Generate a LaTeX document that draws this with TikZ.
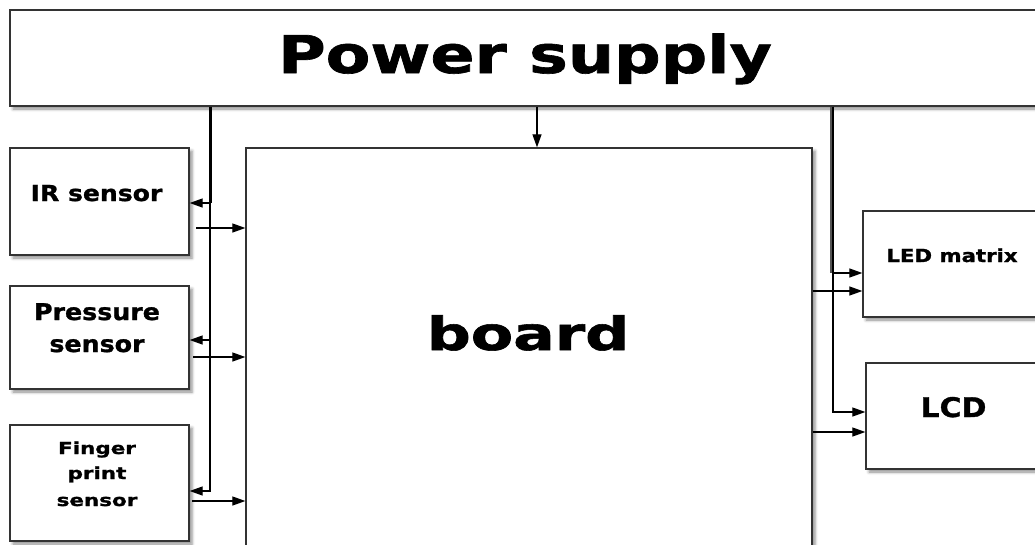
\documentclass[tikz,border=0pt]{standalone}
\usepackage{fontspec}
\setmainfont{DejaVu Sans}[BoldFeatures={FakeBold=1.2}]
\usetikzlibrary{arrows.meta,shadows.blur}

\definecolor{boxline}{HTML}{333333}
\definecolor{feedgray}{HTML}{555555}

% bold label: size (pt), horizontal stretch, text
\newcommand{\lbl}[3]{\scalebox{#2}[1]{\fontsize{#1}{#1}\selectfont\bfseries #3}}

\tikzset{
  box/.style={draw=boxline, line width=1.3pt, fill=white, rectangle, inner sep=0pt,
    blur shadow={shadow xshift=3pt, shadow yshift=-3pt, shadow blur radius=3pt, shadow opacity=45}},
  wire/.style={line width=1.2pt, black},
  arr/.style={wire, -{Triangle[length=13pt,width=9pt]}},
  feed/.style={line width=3pt},
  txt/.style={inner sep=0pt, anchor=base},
}

\begin{document}
\begin{tikzpicture}[x=1pt,y=-1pt]
\useasboundingbox (0,0) rectangle (1035,544);
\clip (0,0) rectangle (1035,544);

% blocks
\node[box, minimum width=1040pt, minimum height=96pt]  (ps)    at (530,58)    {};
\node[box, minimum width=179pt,  minimum height=107pt] (ir)    at (99.5,201.5) {};
\node[box, minimum width=179pt,  minimum height=103pt] (pr)    at (99.5,337.5) {};
\node[box, minimum width=179pt,  minimum height=116pt] (fp)    at (99.5,483)  {};
\node[box, minimum width=566pt,  minimum height=422pt] (board) at (529,359)   {};
\node[box, minimum width=187pt,  minimum height=106pt] (led)   at (956.5,264) {};
\node[box, minimum width=184pt,  minimum height=106pt] (lcd)   at (958,416)   {};

% labels
\node[txt] (psT)  at (525,73)   {\lbl{52}{1.25}{Power supply}};
\node[txt] (bdT)  at (528,350)  {\lbl{46}{1.34}{board}};
\node[txt] (irT)  at (96.5,201) {\lbl{22}{1.14}{IR sensor}};
\node[txt] (prT1) at (97,320)   {\lbl{23}{1.10}{Pressure}};
\node[txt] (prT2) at (97,352)   {\lbl{23}{1.10}{sensor}};
\node[txt] (fpT1) at (97,454)   {\lbl{16.5}{1.30}{Finger}};
\node[txt] (fpT2) at (97,479)   {\lbl{16.5}{1.30}{print}};
\node[txt] (fpT3) at (97,506)   {\lbl{16.5}{1.30}{sensor}};
\node[txt] (ledT) at (952,262)  {\lbl{18}{1.18}{LED matrix}};
\node[txt] (lcdT) at (953.5,417){\lbl{27}{1.11}{LCD}};

% supply bus on the left
\coordinate (busL)  at (210,491);
\coordinate (irTap) at (210,203);
\coordinate (prTap) at (210,340);
\draw[feed] (ps.south -| busL) -- (irTap);
\draw[arr] (ps.south -| busL) -- (busL) -- (busL -| fp.east);
\draw[arr] (irTap) -- (irTap -| ir.east);
\draw[arr] (prTap) -- (prTap -| pr.east);

% sensor outputs into the board
\coordinate (irOut) at (196,228);
\coordinate (prOut) at (193,357);
\coordinate (fpOut) at (192,501);
\draw[arr] (irOut) -- (irOut -| board.west);
\draw[arr] (prOut) -- (prOut -| board.west);
\draw[arr] (fpOut) -- (fpOut -| board.west);

% supply to the board
\coordinate (pbx) at (537,0);
\draw[arr] (ps.south -| pbx) -- (board.north -| pbx);

% supply bus on the right
\coordinate (busR)   at (833,412);
\coordinate (ledTap) at (833,273);
\coordinate (busRf)  at (831,273);
\draw[feed, feedgray] (ps.south -| busRf) -- (busRf);
\draw[arr] (ps.south -| busR) -- (busR) -- (busR -| lcd.west);
\draw[arr] (ledTap) -- (ledTap -| led.west);

% board outputs
\coordinate (bLed) at (812,291);
\coordinate (bLcd) at (812,432);
\draw[arr] (board.east |- bLed) -- (bLed -| led.west);
\draw[arr] (board.east |- bLcd) -- (bLcd -| lcd.west);
\end{tikzpicture}
\end{document}
